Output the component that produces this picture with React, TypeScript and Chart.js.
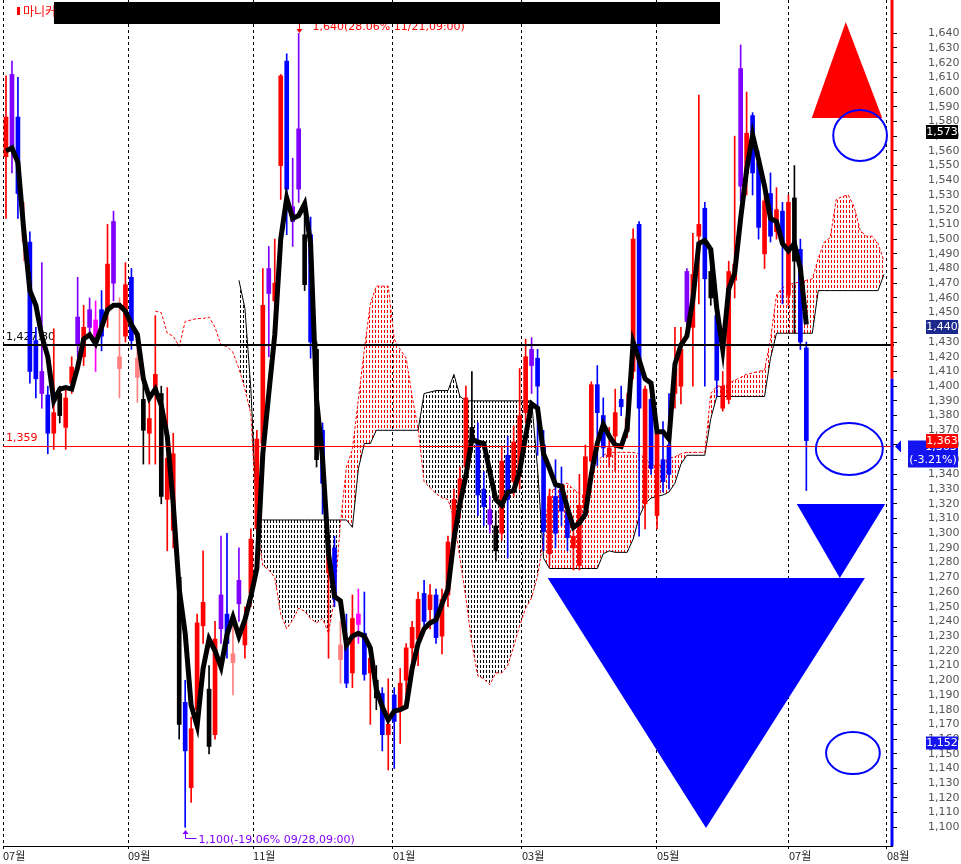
import React, { useEffect, useRef } from 'react';
import { Chart, registerables } from 'chart.js';

Chart.register(...registerables);

// ---------------- data (one slot per candle) ----------------
const OPEN = [
  1556, 1560, 1583, 1508, 1498, 1431, 1395, 1394, 1368, 1395,
  1372, 1402, 1428, 1420, 1440, 1445, 1452, 1451, 1470, 1420,
  1434, 1474, 1419, 1391, 1368, 1396, 1395, 1323, 1302, 1270,
  1185, 1127, 1180, 1237, 1194, 1163, 1235, 1245, 1218, 1252,
  1224, 1259, 1303, 1361, 1463, 1458, 1550, 1621, 1512, 1534,
  1503, 1503, 1425, 1370, 1273, 1290, 1224, 1228, 1205, 1245,
  1232, 1205, 1200, 1191, 1163, 1190, 1180, 1200, 1222, 1228,
  1259, 1248, 1258, 1230, 1258, 1295, 1318, 1345, 1372, 1362,
  1330, 1316, 1305, 1300, 1353, 1335, 1340, 1382, 1414, 1419,
  1360, 1286, 1325, 1330, 1315, 1290, 1278, 1317, 1349, 1401,
  1380, 1352, 1366, 1391, 1369, 1410, 1510, 1320, 1391, 1312,
  1350, 1360, 1395, 1400, 1444, 1440, 1502, 1521, 1478, 1448,
  1385, 1391, 1472, 1536, 1545, 1584, 1552, 1490, 1531, 1505,
  1519, 1462, 1528, 1493, 1426,
];
const HIGH = [
  1611, 1621, 1610, 1525, 1505, 1440, 1484, 1400, 1439, 1400,
  1398, 1420, 1474, 1455, 1460, 1458, 1465, 1510, 1519, 1460,
  1484, 1480, 1430, 1410, 1395, 1448, 1400, 1399, 1368, 1273,
  1200, 1175, 1245, 1288, 1210, 1240, 1298, 1300, 1240, 1290,
  1250, 1303, 1370, 1480, 1495, 1500, 1612, 1626, 1555, 1640,
  1525, 1515, 1430, 1375, 1300, 1298, 1240, 1245, 1258, 1262,
  1260, 1225, 1210, 1195, 1201, 1195, 1208, 1225, 1240, 1260,
  1268, 1265, 1262, 1262, 1298, 1330, 1345, 1400, 1410, 1375,
  1342, 1325, 1315, 1359, 1366, 1373, 1412, 1432, 1433, 1425,
  1370, 1330, 1350, 1345, 1320, 1305, 1340, 1360, 1403, 1414,
  1392, 1372, 1398, 1400, 1395, 1507, 1512, 1400, 1398, 1372,
  1376, 1395, 1440, 1440, 1480, 1504, 1598, 1525, 1492, 1452,
  1410, 1485, 1570, 1632, 1600, 1586, 1560, 1540, 1545, 1535,
  1525, 1530, 1550, 1500, 1430,
];
const LOW = [
  1514, 1545, 1514, 1485, 1402, 1392, 1385, 1354, 1357, 1375,
  1357, 1395, 1420, 1414, 1435, 1410, 1424, 1440, 1458, 1392,
  1430, 1425, 1389, 1347, 1347, 1347, 1320, 1288, 1290, 1160,
  1100, 1117, 1175, 1225, 1150, 1160, 1225, 1215, 1190, 1240,
  1215, 1250, 1295, 1340, 1420, 1440, 1527, 1503, 1495, 1525,
  1465, 1419, 1345, 1313, 1215, 1250, 1198, 1195, 1195, 1225,
  1200, 1170, 1180, 1152, 1139, 1140, 1157, 1185, 1205, 1210,
  1235, 1235, 1225, 1218, 1250, 1288, 1310, 1340, 1355, 1312,
  1305, 1300, 1281, 1295, 1283, 1325, 1330, 1375, 1395, 1353,
  1288, 1278, 1290, 1305, 1288, 1275, 1275, 1310, 1345, 1346,
  1352, 1345, 1342, 1380, 1365, 1405, 1298, 1303, 1340, 1303,
  1328, 1330, 1385, 1388, 1438, 1400, 1456, 1400, 1455, 1393,
  1383, 1388, 1460, 1526, 1530, 1530, 1500, 1480, 1498, 1500,
  1456, 1455, 1436, 1425, 1329,
];
const CLOSE = [
  1583, 1612, 1531, 1498, 1410, 1405, 1410, 1368, 1382, 1380,
  1392, 1413, 1447, 1440, 1452, 1430, 1434, 1483, 1512, 1412,
  1469, 1431, 1406, 1370, 1378, 1408, 1325, 1351, 1354, 1170,
  1152, 1167, 1239, 1253, 1155, 1228, 1258, 1225, 1212, 1268,
  1240, 1296, 1364, 1455, 1480, 1470, 1611, 1534, 1522, 1575,
  1469, 1430, 1350, 1334, 1290, 1255, 1214, 1198, 1242, 1238,
  1204, 1215, 1188, 1163, 1170, 1172, 1198, 1222, 1236, 1255,
  1240, 1258, 1229, 1255, 1294, 1323, 1337, 1392, 1362, 1326,
  1318, 1306, 1288, 1349, 1323, 1362, 1380, 1420, 1425, 1400,
  1301, 1325, 1300, 1315, 1297, 1298, 1319, 1352, 1401, 1382,
  1358, 1358, 1382, 1386, 1378, 1500, 1385, 1398, 1344, 1369,
  1335, 1340, 1412, 1425, 1478, 1476, 1510, 1473, 1460, 1404,
  1400, 1478, 1483, 1616, 1572, 1545, 1508, 1526, 1502, 1520,
  1497, 1525, 1485, 1430, 1363,
];
// r = red, b = blue, p = purple, m = magenta, k = pink, x = black
const CANDLE_COLOR = [
  'r', 'p', 'b', 'k', 'b', 'b', 'p', 'b', 'r', 'x',
  'r', 'r', 'p', 'r', 'p', 'm', 'b', 'r', 'p', 'k',
  'r', 'b', 'k', 'x', 'r', 'r', 'x', 'r', 'r', 'x',
  'b', 'r', 'r', 'r', 'x', 'r', 'p', 'b', 'k', 'p',
  'r', 'r', 'r', 'r', 'p', 'r', 'r', 'b', 'p', 'p',
  'x', 'b', 'x', 'b', 'r', 'b', 'k', 'b', 'r', 'm',
  'b', 'r', 'x', 'b', 'r', 'b', 'r', 'r', 'r', 'r',
  'b', 'r', 'b', 'r', 'r', 'r', 'r', 'r', 'x', 'b',
  'b', 'p', 'x', 'r', 'b', 'r', 'r', 'r', 'p', 'b',
  'b', 'r', 'b', 'b', 'b', 'r', 'r', 'r', 'r', 'b',
  'b', 'r', 'r', 'b', 'r', 'r', 'b', 'r', 'b', 'r',
  'b', 'b', 'r', 'r', 'p', 'r', 'r', 'b', 'x', 'b',
  'r', 'r', 'r', 'p', 'r', 'b', 'b', 'r', 'b', 'r',
  'b', 'r', 'x', 'b', 'b',
];
const MA = [
  1560, 1562, 1552, 1505, 1465, 1455, 1434, 1420, 1390, 1398,
  1399, 1398, 1413, 1432, 1435, 1429, 1440, 1452, 1455, 1455,
  1451, 1442, 1435, 1405, 1392, 1398, 1387, 1366, 1320, 1262,
  1232, 1183, 1169, 1208, 1228, 1220, 1209, 1231, 1243, 1230,
  1241, 1257, 1276, 1354, 1395, 1435, 1500, 1528, 1514, 1516,
  1524, 1497, 1391, 1351, 1286, 1257, 1254, 1224, 1230, 1232,
  1230, 1222, 1194, 1182, 1173, 1179, 1180, 1182, 1208, 1225,
  1235, 1239, 1241, 1252, 1262, 1296, 1320, 1339, 1364, 1362,
  1361, 1342, 1323, 1319, 1328, 1329, 1342, 1366, 1388, 1385,
  1354, 1344, 1333, 1332, 1317, 1304, 1307, 1313, 1340, 1361,
  1374, 1366, 1360, 1359, 1371, 1430, 1418, 1405, 1402, 1369,
  1369, 1364, 1415, 1428, 1434, 1459, 1497, 1499, 1493, 1453,
  1425, 1466, 1477, 1514, 1547, 1571, 1554, 1536, 1514, 1512,
  1497, 1492, 1497, 1480, 1442,
];
const SPAN_A_START = 25;
const SPAN_A = [
  1451, 1450, 1436, 1434, 1427, 1444, 1445, 1446, 1446, 1447,
  1440, 1428, 1427, 1423, 1412, 1398, 1381, 1305, 1278, 1275,
  1270, 1245, 1235, 1241, 1249, 1247, 1242, 1239, 1242, 1232,
  1256, 1307, 1345, 1357, 1391, 1425, 1456, 1468, 1468, 1468,
  1432, 1425, 1419, 1393, 1371, 1335, 1331, 1327, 1324, 1323,
  1310, 1283, 1256, 1225, 1203, 1201, 1197, 1205, 1205, 1210,
  1223, 1237, 1249, 1256, 1271, 1296, 1329, 1330, 1333, 1334,
  1330, 1327, 1325, 1344, 1349, 1353, 1355, 1355, 1355, 1355,
  1355, 1354, 1351, 1347, 1345, 1348, 1351, 1352, 1354, 1355,
  1355, 1355, 1355, 1395, 1400, 1400, 1402, 1404, 1406, 1408,
  1409, 1410, 1411, 1432, 1462, 1467, 1469, 1470, 1471, 1472,
  1473, 1487, 1498, 1501, 1527, 1529, 1530, 1522, 1506, 1502,
  1502, 1497, 1485,
];
const SPAN_B_START = 39;
const SPAN_B = [
  1472, 1453, 1398, 1310, 1309, 1309, 1309, 1309, 1309, 1309,
  1309, 1309, 1309, 1309, 1309, 1309, 1309, 1309, 1309, 1304,
  1344, 1361, 1361, 1370, 1370, 1370, 1370, 1370, 1370, 1370,
  1370, 1395, 1396, 1397, 1397, 1397, 1408, 1393, 1390, 1390,
  1390, 1390, 1390, 1390, 1390, 1390, 1390, 1390, 1390, 1390,
  1344, 1283, 1276, 1276, 1276, 1276, 1276, 1276, 1276, 1276,
  1276, 1286, 1288, 1287, 1287, 1287, 1296, 1311, 1320, 1324,
  1325, 1326, 1328, 1334, 1347, 1353, 1353, 1353, 1353, 1378,
  1393, 1393, 1393, 1393, 1393, 1393, 1393, 1393, 1393, 1419,
  1436, 1436, 1436, 1436, 1436, 1436, 1436, 1465, 1465, 1465,
  1465, 1465, 1465, 1465, 1465, 1465, 1465, 1465, 1476,
];
const MONTH_POS = [-0.5, 20.43, 41.36, 64.79, 86.39, 108.99, 131.09, 147.5];
const MONTH_LABELS = ['07월', '09월', '11월', '01월', '03월', '05월', '07월', '08월'];
const Y_MIN = 1087.3;
const Y_MAX = 1662.6;
const Y_TICK_FIRST = 1100;
const Y_TICK_LAST = 1640;
const Y_TICK_STEP = 10;

const TITLE = '마니커';
const REF_LINES = [
  { value: 1427.8, label: '1,427.80', color: '#000000', width: 2 },
  { value: 1359, label: '1,359', color: '#ff0000', width: 1 },
];
const HIGH_MARK = { slot: 49, price: 1640, text: '1,640(28.06% 11/21,09:00)' };
const LOW_MARK = { slot: 30, price: 1100, text: '1,100(-19.06% 09/28,09:00)' };
const AXIS_SPLIT = 1405;
const TRIANGLES = [
  { color: '#ff0000', pts: [[140.6, 1647.6], [134.9, 1582.4], [146.7, 1582.4]] },
  { color: '#0000ff', pts: [[132.4, 1319.8], [147.2, 1319.8], [139.6, 1269.5]] },
  { color: '#0000ff', pts: [[90.7, 1269.5], [143.8, 1269.5], [117.2, 1099.5]] },
];
const ELLIPSES = [
  { x0: 138.5, x1: 147.5, v0: 1553.1, v1: 1587.8 },
  { x0: 135.6, x1: 146.8, v0: 1339.6, v1: 1374.9 },
  { x0: 137.3, x1: 146.3, v0: 1136.2, v1: 1164.8 },
];
const AXIS_BOXES = [
  { value: 1573, lines: ['1,573'], bg: '#000000', w: 32, h: 14, dy: 0 },
  { value: 1440, lines: ['1,440'], bg: '#1c2a8e', w: 32, h: 14, dy: 0 },
  { value: 1363, lines: ['1,363', '(-3.21%)'], bg: '#1414f0', w: 50, h: 27, dy: 13 },
  { value: 1363, lines: ['1,363'], bg: '#ff0000', w: 32, h: 14, dy: 0 },
  { value: 1152, lines: ['1,152'], bg: '#1414f0', w: 32, h: 13, dy: -8 },
];

const PALETTE: Record<string, string> = {
  r: '#ff0000', b: '#0000ff', p: '#8000ff', m: '#ff00ff', k: '#ff8080', x: '#000000',
};

const fmt = (v: number) => {
  const s = String(Math.round(v));
  return s.length > 3 ? s.slice(0, s.length - 3) + ',' + s.slice(s.length - 3) : s;
};

function makePattern(color: string) {
  const c = document.createElement('canvas');
  c.width = 3;
  c.height = 5;
  const g = c.getContext('2d')!;
  g.fillStyle = color;
  g.fillRect(0, 0, 1, 3);
  return g.createPattern(c, 'repeat');
}

const overlayPlugin = {
  id: 'overlay',
  beforeDatasetsDraw(chart: any) {
    const { ctx, chartArea } = chart;
    const ys = chart.scales.y;
    ctx.save();
    ctx.font = '11px "DejaVu Sans"';
    ctx.textAlign = 'left';
    ctx.textBaseline = 'alphabetic';
    REF_LINES.forEach((r) => {
      ctx.fillStyle = r.color;
      ctx.fillText(r.label, chartArea.left + 3, ys.getPixelForValue(r.value) - 5);
    });
    ctx.restore();
  },
  afterDatasetsDraw(chart: any) {
    const { ctx, chartArea } = chart;
    const xs = chart.scales.x;
    const ys = chart.scales.y;
    const px = (v: number) => xs.getPixelForValue(v);
    const py = (v: number) => ys.getPixelForValue(v);
    ctx.save();
    REF_LINES.forEach((r) => {
      const yy = Math.round(py(r.value)) + (r.width % 2 ? 0.5 : 0);
      ctx.strokeStyle = r.color;
      ctx.lineWidth = r.width;
      ctx.beginPath();
      ctx.moveTo(chartArea.left, yy);
      ctx.lineTo(chartArea.right + 2, yy);
      ctx.stroke();
    });
    TRIANGLES.forEach((t) => {
      ctx.fillStyle = t.color;
      ctx.beginPath();
      t.pts.forEach(([sx, sv], k) => {
        if (k) ctx.lineTo(px(sx), py(sv));
        else ctx.moveTo(px(sx), py(sv));
      });
      ctx.closePath();
      ctx.fill();
    });
    ctx.strokeStyle = '#0000ff';
    ctx.lineWidth = 2;
    ELLIPSES.forEach((e) => {
      const x0 = px(e.x0), x1 = px(e.x1), y0 = py(e.v1), y1 = py(e.v0);
      ctx.beginPath();
      ctx.ellipse((x0 + x1) / 2, (y0 + y1) / 2, (x1 - x0) / 2, (y1 - y0) / 2, 0, 0, Math.PI * 2);
      ctx.stroke();
    });
    ctx.font = '11px "DejaVu Sans"';
    ctx.textAlign = 'left';
    ctx.textBaseline = 'alphabetic';
    ctx.lineWidth = 1;
    // high mark
    const hx = Math.round(px(HIGH_MARK.slot)) + 0.5;
    const hy = Math.round(py(HIGH_MARK.price));
    ctx.strokeStyle = '#ff0000';
    ctx.fillStyle = '#ff0000';
    ctx.beginPath();
    ctx.moveTo(hx + 11, hy - 9.5);
    ctx.lineTo(hx, hy - 9.5);
    ctx.lineTo(hx, hy - 2);
    ctx.stroke();
    ctx.beginPath();
    ctx.moveTo(hx - 3, hy - 4);
    ctx.lineTo(hx + 3, hy - 4);
    ctx.lineTo(hx, hy);
    ctx.closePath();
    ctx.fill();
    ctx.fillText(HIGH_MARK.text, hx + 13, hy - 3);
    // low mark
    const lx = Math.round(px(LOW_MARK.slot)) + 0.5;
    const ly = Math.round(py(LOW_MARK.price));
    ctx.strokeStyle = '#8000ff';
    ctx.fillStyle = '#8000ff';
    ctx.beginPath();
    ctx.moveTo(lx, ly + 6);
    ctx.lineTo(lx, ly + 11.5);
    ctx.lineTo(lx + 11, ly + 11.5);
    ctx.stroke();
    ctx.beginPath();
    ctx.moveTo(lx - 3, ly + 7);
    ctx.lineTo(lx + 3, ly + 7);
    ctx.lineTo(lx, ly + 3);
    ctx.closePath();
    ctx.fill();
    ctx.fillText(LOW_MARK.text, lx + 13, ly + 16);
    ctx.restore();
  },
  afterDraw(chart: any) {
    const { ctx, chartArea, width } = chart;
    const ys = chart.scales.y;
    const py = (v: number) => ys.getPixelForValue(v);
    ctx.save();
    // coloured right edge
    const ax = chartArea.right;
    const split = py(AXIS_SPLIT);
    ctx.lineWidth = 3;
    ctx.strokeStyle = '#ff0000';
    ctx.beginPath();
    ctx.moveTo(ax, chartArea.top);
    ctx.lineTo(ax, split);
    ctx.stroke();
    ctx.strokeStyle = '#0000ff';
    ctx.beginPath();
    ctx.moveTo(ax, split);
    ctx.lineTo(ax, chartArea.bottom);
    ctx.stroke();
    // value boxes on the axis
    ctx.font = '11px "DejaVu Sans"';
    ctx.textAlign = 'center';
    ctx.textBaseline = 'middle';
    AXIS_BOXES.forEach((b) => {
      const cy = Math.round(py(b.value)) + b.dy;
      const right = width - 3;
      const top = cy - b.h / 2;
      ctx.fillStyle = b.bg;
      ctx.fillRect(right - b.w, top, b.w, b.h);
      ctx.fillStyle = '#ffffff';
      if (b.lines.length === 1) {
        ctx.fillText(b.lines[0], right - b.w / 2, cy + 0.5);
      } else {
        ctx.fillText(b.lines[0], right - b.w / 2 + 8, top + 7);
        ctx.fillText(b.lines[1], right - b.w / 2, top + 20);
      }
    });
    // current price marker
    const my = Math.round(py(REF_LINES[1].value)) + 0.5;
    ctx.fillStyle = '#0000ff';
    ctx.beginPath();
    ctx.moveTo(ax + 3, my);
    ctx.lineTo(ax + 9, my - 6);
    ctx.lineTo(ax + 9, my + 6);
    ctx.closePath();
    ctx.fill();
    // title
    ctx.fillStyle = '#ff0000';
    ctx.fillRect(17, 7, 3, 8);
    ctx.font = '12px "Noto Sans CJK KR"';
    ctx.textAlign = 'left';
    ctx.textBaseline = 'middle';
    ctx.fillText(TITLE, 23, 11);
    ctx.fillStyle = '#000000';
    ctx.fillRect(54, 2, 666, 22);
    ctx.restore();
  },
};

export default function App() {
  const ref = useRef<HTMLCanvasElement>(null);
  useEffect(() => {
    document.body.style.margin = '0';
    const canvas = ref.current!;
    const redPat = makePattern('#ff0000');
    const blackPat = makePattern('#000000');
    const slots = OPEN.map((_, i) => i);
    const colors = CANDLE_COLOR.map((c) => PALETTE[c]);
    const spanA = SPAN_A.map((v, j) => ({ x: SPAN_A_START + j, y: v }));
    const spanB = SPAN_B.map((v, j) => ({ x: SPAN_B_START + j, y: v }));
    const cloud = spanA.filter((p) => p.x >= SPAN_B_START);
    const yTicks: number[] = [];
    for (let v = Y_TICK_FIRST; v <= Y_TICK_LAST; v += Y_TICK_STEP) yTicks.push(v);

    const chart = new Chart(canvas, {
      type: 'line',
      data: {
        datasets: [
          {
            type: 'line',
            data: MA.map((v, i) => ({ x: i, y: v })),
            borderColor: '#000000',
            borderWidth: 5,
            pointRadius: 0,
            tension: 0,
            order: 0,
          },
          {
            type: 'bar',
            data: slots.map((i) => ({ x: i, y: [OPEN[i], CLOSE[i]] })),
            backgroundColor: colors,
            barThickness: 4,
            grouped: false,
            borderWidth: 0,
            order: 1,
          },
          {
            type: 'bar',
            data: slots.map((i) => ({ x: i, y: [LOW[i], HIGH[i]] })),
            backgroundColor: colors,
            barThickness: 1,
            grouped: false,
            borderWidth: 0,
            order: 2,
          },
          {
            type: 'line',
            data: spanA,
            borderColor: '#ff0000',
            borderWidth: 1,
            borderDash: [3, 2],
            pointRadius: 0,
            tension: 0,
            order: 3,
          },
          {
            type: 'line',
            data: spanB,
            borderColor: '#000000',
            borderWidth: 1,
            pointRadius: 0,
            tension: 0,
            order: 4,
          },
          {
            type: 'line',
            data: cloud,
            borderColor: 'rgba(0,0,0,0)',
            borderWidth: 0,
            pointRadius: 0,
            tension: 0,
            fill: { target: 4, above: redPat, below: blackPat },
            order: 5,
          },
        ] as any,
      },
      options: {
        responsive: false,
        animation: false,
        devicePixelRatio: 1,
        events: [],
        layout: { padding: { left: 3, top: 0, right: 0, bottom: 0 } },
        plugins: { legend: { display: false }, tooltip: { enabled: false }, title: { display: false } },
        scales: {
          x: {
            type: 'linear',
            min: -0.5,
            max: 148.34,
            offset: false,
            afterBuildTicks: (s: any) => {
              s.ticks = MONTH_POS.map((v) => ({ value: v }));
            },
            afterFit: (s: any) => {
              s.height = 18;
              s.paddingLeft = 0;
              s.paddingRight = 0;
            },
            ticks: {
              autoSkip: false,
              maxRotation: 0,
              minRotation: 0,
              align: 'start',
              padding: 0,
              color: '#222222',
              font: { family: '"Noto Sans CJK KR"', size: 11 },
              callback: (_v: any, idx: number) => MONTH_LABELS[idx],
            },
            grid: {
              offset: false,
              color: '#000000',
              lineWidth: 1,
              drawTicks: true,
              tickLength: 3,
              tickColor: '#000000',
            },
            border: { display: true, color: '#000000', width: 1, dash: [3, 3] },
          },
          y: {
            type: 'linear',
            position: 'right',
            min: Y_MIN,
            max: Y_MAX,
            afterBuildTicks: (s: any) => {
              s.ticks = yTicks.map((v) => ({ value: v }));
            },
            afterFit: (s: any) => {
              s.width = 69;
              s.paddingTop = 0;
              s.paddingBottom = 0;
            },
            ticks: {
              autoSkip: false,
              padding: 31,
              crossAlign: 'near',
              color: '#555555',
              font: { family: '"DejaVu Sans"', size: 11 },
              callback: (v: any) => fmt(Number(v)),
            },
            grid: { offset: false, drawOnChartArea: false, drawTicks: true, tickLength: 5, tickColor: '#000000' },
            border: { display: false },
          },
        },
      } as any,
      plugins: [overlayPlugin],
    });
    return () => chart.destroy();
  }, []);
  return (
    <div style={{ width: 961, height: 864 }}>
      <canvas ref={ref} width={961} height={864} style={{ display: 'block' }} />
    </div>
  );
}
